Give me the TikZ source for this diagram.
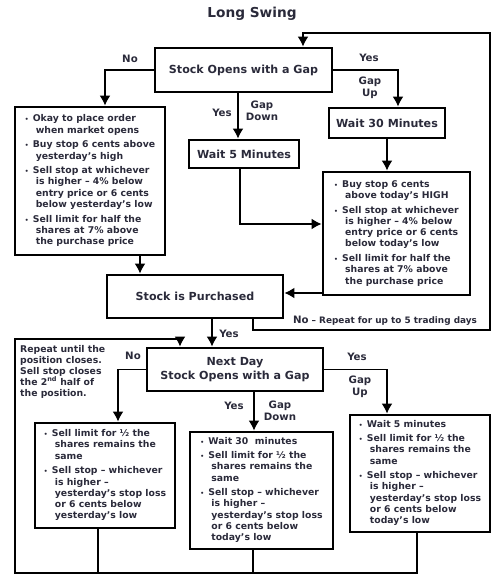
\documentclass[tikz,border=0pt]{standalone}
\usepackage{fontspec}
\setmainfont{DejaVu Sans}
\usepackage{tikz}
\usetikzlibrary{arrows.meta}
\usetikzlibrary{positioning}
\definecolor{ink}{RGB}{42,42,58}
\tikzstyle{every node}+=[inner sep=0pt]
\tikzstyle{block} = [rectangle, draw, line width=2.8pt, text=ink, font=\bfseries\fontsize{11.1}{13.5}\selectfont, align=center]
\tikzstyle{list} = [rectangle, draw, line width=2.8pt, text=ink, font=\bfseries\fontsize{9.3}{11.2}\selectfont, align=left, inner xsep=9pt]
\tikzstyle{line} = [draw, line width=1.8pt, -{Latex[length=10pt,width=11pt]}]
\tikzstyle{wire} = [draw, line width=1.6pt]
\tikzstyle{value} = [text=ink, font=\bfseries\fontsize{10.2}{12.5}\selectfont, align=center]
\newcommand{\bitem}[1]{\makebox[11pt][l]{\fontsize{6}{6}\selectfont\textbullet}\begin{tabular}[t]{@{}l@{}}\hspace*{-3pt}#1\end{tabular}}

\begin{document}
\begin{tikzpicture}[x=1pt, y=-1pt]
  \useasboundingbox (0,0) rectangle (499,584);
  % Place nodes
  \node [value, font=\bfseries\fontsize{13.7}{15}\selectfont] (title) at (252,14) {Long Swing};
  \node [block, minimum width=177pt, minimum height=44pt] (gap) at (243.5,70) {Stock Opens with a Gap};
  \node [list, minimum width=150pt, minimum height=148pt] (early) at (90,181) {%
    \bitem{Okay to place order\\when market opens}\\[2.5pt]
    \bitem{Buy stop 6 cents above\\yesterday's high}\\[2.5pt]
    \bitem{Sell stop at whichever\\is higher – 4\% below\\entry price or 6 cents\\below yesterday’s low}\\[2.5pt]
    \bitem{Sell limit for half the\\shares at 7\% above\\the purchase price}};
  \node [block, minimum width=110pt, minimum height=28pt] (wait5) at (244,154) {Wait 5 Minutes};
  \node [block, minimum width=116pt, minimum height=30pt] (wait30) at (387,123) {Wait 30 Minutes};
  \node [list, minimum width=147pt, minimum height=123pt] (buy) at (396.5,233.5) {%
    \bitem{Buy stop 6 cents\\above today's HIGH}\\[2.5pt]
    \bitem{Sell stop at whichever\\is higher – 4\% below\\entry price or 6 cents\\below today’s low}\\[2.5pt]
    \bitem{Sell limit for half the\\shares at 7\% above\\the purchase price}};
  \node [block, minimum width=176pt, minimum height=43pt] (purch) at (195,296.5) {Stock is Purchased};
  \node [block, minimum width=176pt, minimum height=43pt] (next) at (235,369.5) {Next Day\\Stock Opens with a Gap};
  \node [list, minimum width=140pt, minimum height=105pt] (keep) at (105,475.5) {%
    \bitem{Sell limit for ½ the\\shares remains the\\same}\\[2.5pt]
    \bitem{Sell stop – whichever\\is higher –\\yesterday’s stop loss\\or 6 cents below\\yesterday’s low}};
  \node [list, minimum width=143pt, minimum height=117pt] (down2) at (261.5,490.5) {%
    \bitem{Wait 30\ \ minutes}\\[2.5pt]
    \bitem{Sell limit for ½ the\\shares remains the\\same}\\[2.5pt]
    \bitem{Sell stop – whichever\\is higher –\\yesterday’s stop loss\\or 6 cents below\\today’s low}};
  \node [list, minimum width=140pt, minimum height=117pt] (up2) at (420,473.5) {%
    \bitem{Wait 5 minutes}\\[2.5pt]
    \bitem{Sell limit for ½ the\\shares remains the\\same}\\[2.5pt]
    \bitem{Sell stop – whichever\\is higher –\\yesterday’s stop loss\\or 6 cents below\\today’s low}};
  \node [value, anchor=north west, align=left, font=\bfseries\fontsize{9.3}{11}\selectfont] (note) at (20,345) {Repeat until the\\position closes.\\Sell stop closes\\the 2\textsuperscript{nd} half of\\the position.};
  % Labels
  \node [value] (no1) at (130,59) {No};
  \node [value] (yes1) at (369,58) {Yes};
  \node [value] (up1) at (370,88) {Gap\\Up};
  \node [value] (yes2) at (222,113) {Yes};
  \node [value] (down1) at (262,111) {Gap\\Down};
  \node [value, font=\bfseries\fontsize{8.9}{10}\selectfont] (repeat) at (385,321) {{\fontsize{10.2}{10}\selectfont No} – Repeat for up to 5 trading days};
  \node [value] (yes3) at (229,334) {Yes};
  \node [value] (no2) at (133,356) {No};
  \node [value] (yes4) at (234,406) {Yes};
  \node [value] (down2l) at (280,411) {Gap\\Down};
  \node [value] (yes5) at (357,357) {Yes};
  \node [value] (up2l) at (360,387) {Gap\\Up};
  \coordinate (r1) at (490,330);
  \coordinate (r2) at (490,33);
  \coordinate (b1) at (15,573);
  \coordinate (b2) at (15,339);
  % Draw edges
  \path [line] (gap.west) -| ([xshift=15pt]early.north);
  \path [line] ([xshift=-5.5pt]gap.south) -- ([xshift=-5.5pt]gap.south |- wait5.north);
  \path [line] ([xshift=-4pt]wait5.south) |- ([yshift=9.5pt]buy.west);
  \path [line] (gap.east) -| ([xshift=11pt]wait30.north);
  \path [line] (wait30.south) -- (wait30.south |- buy.north);
  \path [line] ([yshift=-59.5pt]buy.west) -- ([yshift=-59.5pt]buy.west -| purch.east);
  \path [line] ([xshift=50pt]early.south) -- ([xshift=50pt]early.south |- purch.north);
  \path [line] ([xshift=17pt]purch.south) -- ([xshift=17pt]purch.south |- next.north);
  \path [line] ([xshift=58pt]purch.south) |- (r1) -- (r2) -| ([xshift=59.5pt]gap.north);
  \path [line] (next.west) -| ([xshift=13pt]keep.north);
  \path [line] ([xshift=19pt]next.south) -- ([xshift=19pt]next.south |- down2.north);
  \path [line] (next.east) -| ([xshift=-33pt]up2.north);
  \path [wire] ([xshift=-7pt]keep.south) -- ([xshift=-7pt]keep.south |- b1);
  \path [wire] ([xshift=-8.5pt]down2.south) -- ([xshift=-8.5pt]down2.south |- b1);
  \path [line] ([xshift=-3pt]up2.south) |- (b1) -- (b2) -| ([xshift=-55pt]next.north);
\end{tikzpicture}
\end{document}
